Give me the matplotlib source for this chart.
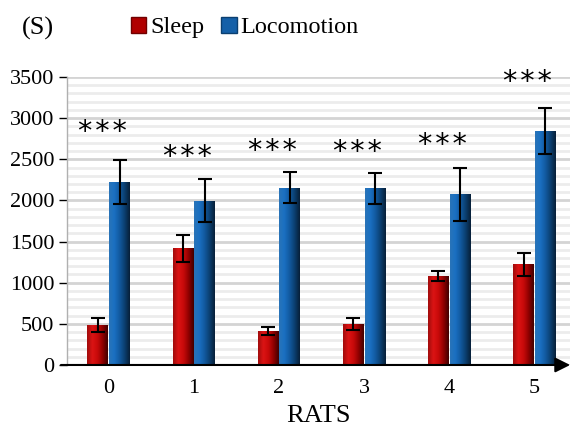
import numpy as np
import matplotlib
matplotlib.use("Agg")
import matplotlib.pyplot as plt
from matplotlib.colors import LinearSegmentedColormap
from matplotlib.patches import Rectangle

# ---- data ----
rats = ["0", "1", "2", "3", "4", "5"]
sleep = [485, 1418, 415, 498, 1081, 1223]
sleep_err = [85, 165, 45, 73, 65, 140]
locomotion = [2225, 1996, 2155, 2147, 2074, 2847]
locomotion_err = [268, 260, 186, 186, 323, 280]
star_y = [2830, 2527, 2600, 2587, 2672, 3438]
star_text = "*\u200a*\u200a*"
legend_labels = ["Sleep", "Locomotion"]
yticks = [0, 500, 1000, 1500, 2000, 2500, 3000, 3500]

serif = ["Liberation Serif", "DejaVu Serif"]

fig = plt.figure(figsize=(5.73, 4.37), dpi=100)
ax = fig.add_axes([0.117, 0.1648, 0.878, 0.659])

x = np.arange(len(rats))
w = 0.245

red_cmap = LinearSegmentedColormap.from_list(
    "r", ["#a00c0c", "#dc1414", "#c80a0a", "#900000", "#400000"])
blue_cmap = LinearSegmentedColormap.from_list(
    "b", ["#2a74b8", "#1a70c2", "#125aa0", "#0b3f70", "#071f38"])

grad = np.linspace(0, 1, 64).reshape(1, -1)

def gradient_bars(bars, cmap):
    for b in bars:
        x0, y0 = b.get_x(), b.get_y()
        bw, bh = b.get_width(), b.get_height()
        im = ax.imshow(grad, cmap=cmap, aspect="auto",
                       extent=(x0, x0 + bw, y0, y0 + bh), zorder=3,
                       interpolation="bicubic")
        im.set_clip_path(b)

b1 = ax.bar(x - w / 2 - 0.005, sleep, w, color="#b00000", zorder=3,
            yerr=sleep_err, error_kw=dict(ecolor="black", elinewidth=1.5,
                                          capsize=5, capthick=1.5, zorder=5))
b2 = ax.bar(x + w / 2 + 0.005, locomotion, w, color="#1560a8", zorder=3,
            yerr=locomotion_err, error_kw=dict(ecolor="black", elinewidth=1.5,
                                               capsize=5, capthick=1.5, zorder=5))
gradient_bars(b1, red_cmap)
gradient_bars(b2, blue_cmap)

for xi, yi in zip(x, star_y):
    ax.text(xi - 0.08, yi, star_text, ha="center", va="center",
            fontsize=20.5, family="DejaVu Sans", color="black", zorder=6)

ax.set_xlim(-0.49, 5.42)
ax.set_ylim(0, 3500)
ax.set_yticks(yticks)
ax.set_yticks(np.arange(0, 3501, 100), minor=True)
ax.set_xticks(x)
ax.set_xticklabels(rats, family=serif, fontsize=16)
ax.set_yticklabels([str(v) for v in yticks], family=serif, fontsize=16)
ax.tick_params(axis="y", which="major", length=6, width=1, color="black", pad=3)
ax.tick_params(axis="y", which="minor", length=0)
ax.tick_params(axis="x", length=0, pad=10)

ax.grid(axis="y", which="major", color="#d4d4d4", linewidth=2, zorder=0)
ax.grid(axis="y", which="minor", color="#ececec", linewidth=2, zorder=0)
ax.set_axisbelow(True)

for s in ["top", "right", "bottom"]:
    ax.spines[s].set_visible(False)
ax.spines["left"].set_color("#b0b0b0")
ax.spines["left"].set_linewidth(1)

ax.annotate("", xy=(1.0, 0), xycoords="axes fraction",
            xytext=(-0.012, 0), textcoords="axes fraction",
            arrowprops=dict(arrowstyle="-|>,head_length=0.9,head_width=0.45",
                            color="black", lw=1.5, shrinkA=0, shrinkB=0),
            annotation_clip=False, zorder=7)

ax.set_xlabel("RATS", family=serif, fontsize=19, labelpad=5)

fig.text(0.038, 0.935, "(S)", family=serif, fontsize=19, va="center", ha="left")

h1 = Rectangle((0, 0), 1, 1, facecolor="#b00000", edgecolor="#700000")
h2 = Rectangle((0, 0), 1, 1, facecolor="#1560a8", edgecolor="#0b3f70")
fig.legend([h1, h2], legend_labels, loc="center left",
           bbox_to_anchor=(0.228, 0.937), ncol=2, frameon=False,
           prop={"family": serif, "size": 17.5}, handlelength=0.65,
           handleheight=0.65, handletextpad=0.15, columnspacing=0.7,
           borderaxespad=0, borderpad=0)

fig.savefig("out.png", dpi=100)
